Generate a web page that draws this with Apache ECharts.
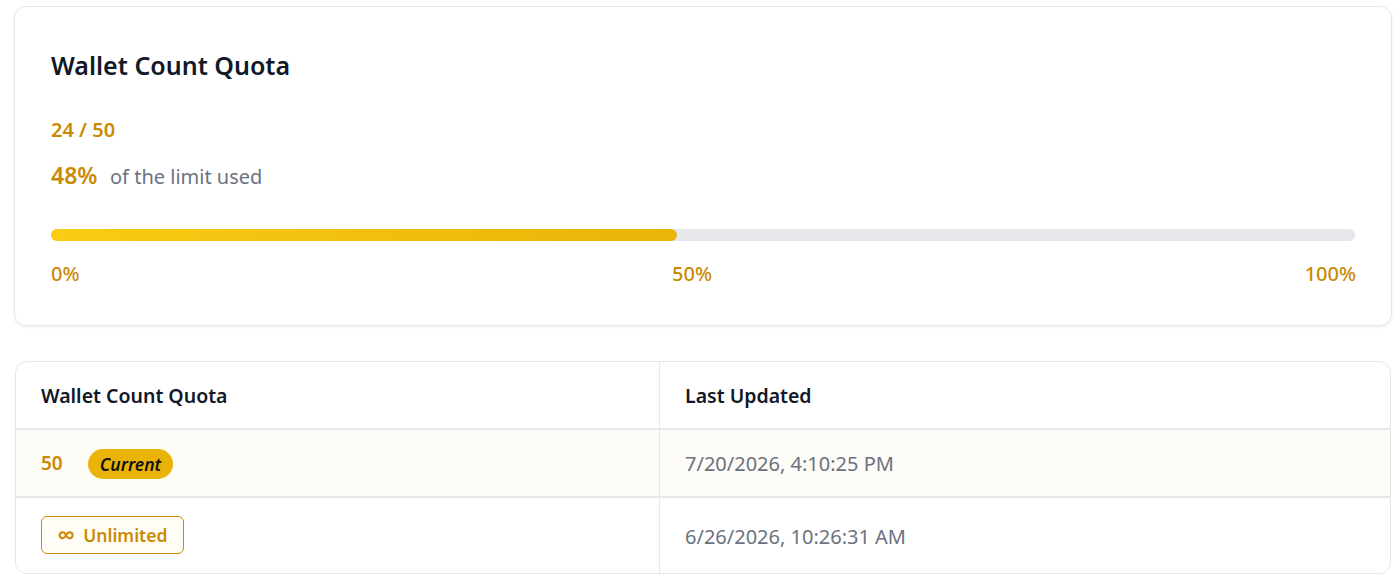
<!DOCTYPE html>
<html>
<head>
<meta charset="utf-8">
<script src="https://cdn.jsdelivr.net/npm/echarts@6/dist/echarts.min.js"></script>
<style>
  html, body { margin: 0; padding: 0; background: #ffffff; width: 1400px; height: 579px; overflow: hidden; }
  body { font-family: "Noto Sans", "Open Sans", sans-serif; position: relative; }
  .card { position: absolute; box-sizing: border-box; border: 1px solid #e5e7eb; border-radius: 12px; background: #fff; }
  #card1 { left: 14px; top: 6px; width: 1378px; height: 320px; box-shadow: 0 1px 3px rgba(0,0,0,0.08); }
  #card2 { left: 15px; top: 361px; width: 1376px; height: 213px; overflow: hidden; }
  .abs { position: absolute; white-space: nowrap; line-height: 1; }
  #title { left: 36px; top: 46px; font-size: 25px; font-weight: 600; color: #111827; }
  #count { left: 36px; top: 113px; font-size: 20px; font-weight: 600; color: #ca8a04; }
  #pct { left: 36px; top: 157px; font-size: 23px; font-weight: 600; color: #ca8a04; }
  #pctTxt { left: 95px; top: 160px; font-size: 20px; color: #6b7280; }
  #bar { position: absolute; left: 35px; top: 221px; width: 1306px; height: 14px; }
  #ticks { position: absolute; left: 36px; top: 257px; width: 1305px; display: flex; justify-content: space-between; font-size: 20px; font-weight: 500; color: #ca8a04; line-height: 1; }
  .row { position: absolute; left: 0; width: 100%; box-sizing: border-box; }
  .hdr { font-size: 19.5px; font-weight: 600; color: #111827; }
  .date { font-size: 20px; color: #6b7280; }
  .vline { position: absolute; left: 643px; top: 0; width: 1px; height: 100%; background: #e5e7eb; }
  .hline { position: absolute; left: 0; width: 100%; height: 2px; background: #e5e7eb; }
  .num { font-size: 19px; font-weight: 600; color: #ca8a04; }
  .badge { position: absolute; box-sizing: border-box; background: #eab308; border-radius: 15px; font-style: italic; font-weight: 600; font-size: 17.5px; color: #111; display: flex; align-items: center; justify-content: center; }
  .obadge { position: absolute; box-sizing: border-box; border: 1.5px solid #ca8a04; border-radius: 6px; background: #fffdf5; font-weight: 600; font-size: 17.5px; color: #ca8a04; display: flex; align-items: center; justify-content: center; }
  .inf { font-size: 25px; margin-right: 8px; line-height: 1; position: relative; top: -1px; }
</style>
</head>
<body>
<div class="card" id="card1">
  <div class="abs" id="title"></div>
  <div class="abs" id="count"></div>
  <div class="abs" id="pct"></div>
  <div class="abs" id="pctTxt">of the limit used</div>
  <div id="bar"></div>
  <div id="ticks"></div>
</div>
<div class="card" id="card2"></div>
<script>
// ---- data ----
const chartTitle = "Wallet Count Quota";
const usedCount = [24];
const limitCount = [50];
const tickLabels = ["0%", "50%", "100%"];
const tableHeaders = ["Wallet Count Quota", "Last Updated"];
const quotaValues = ["50", "Unlimited"];
const quotaCurrent = [true, false];
const updatedAt = ["7/20/2026, 4:10:25 PM", "6/26/2026, 10:26:31 AM"];

// ---- derived ----
const percent = Math.round(usedCount[0] / limitCount[0] * 100);

document.getElementById('title').textContent = chartTitle;
document.getElementById('count').textContent = usedCount[0] + " / " + limitCount[0];
document.getElementById('pct').textContent = percent + "%";
const ticks = document.getElementById('ticks');
tickLabels.forEach(t => { const s = document.createElement('span'); s.textContent = t; ticks.appendChild(s); });

// ---- progress bar via ECharts ----
const chart = echarts.init(document.getElementById('bar'), null, { renderer: 'canvas' });
chart.setOption({
  animation: false,
  grid: { left: 1, right: 1, top: 1, bottom: 1 },
  xAxis: { type: 'value', min: 0, max: 100, show: false },
  yAxis: { type: 'category', data: ['used'], show: false },
  series: [{
    type: 'bar',
    data: [percent],
    barWidth: 12,
    showBackground: true,
    backgroundStyle: { color: '#e5e7eb', borderRadius: 6 },
    itemStyle: {
      borderRadius: 6,
      color: new echarts.graphic.LinearGradient(0, 0, 1, 0, [
        { offset: 0, color: '#facc15' },
        { offset: 1, color: '#eab308' }
      ])
    }
  }]
});

// ---- table ----
const card2 = document.getElementById('card2');
const rowTops = [0, 67, 135];
const rowHeights = [67, 68, 78];
const hdr = document.createElement('div');
hdr.className = 'row'; hdr.style.top = '0px'; hdr.style.height = '67px';
tableHeaders.forEach((h, i) => {
  const d = document.createElement('div');
  d.className = 'abs hdr'; d.textContent = h;
  d.style.left = (i === 0 ? 25 : 669) + 'px'; d.style.top = '24px';
  hdr.appendChild(d);
});
card2.appendChild(hdr);
quotaValues.forEach((v, i) => {
  const r = document.createElement('div');
  r.className = 'row';
  r.style.top = rowTops[i + 1] + 'px';
  r.style.height = rowHeights[i + 1] + 'px';
  r.style.background = quotaCurrent[i] ? '#fdfcf6' : '#ffffff';
  const mid = rowHeights[i + 1] / 2;
  if (v === 'Unlimited') {
    const b = document.createElement('div');
    b.className = 'obadge';
    b.style.left = '25px'; b.style.top = (mid - 19 - 1) + 'px';
    b.style.width = '143px'; b.style.height = '38px';
    const inf = document.createElement('span'); inf.className = 'inf'; inf.textContent = '\u221E';
    const tx = document.createElement('span'); tx.textContent = v;
    b.appendChild(inf); b.appendChild(tx);
    r.appendChild(b);
  } else {
    const n = document.createElement('div');
    n.className = 'abs num'; n.textContent = v;
    n.style.left = '25px'; n.style.top = (mid - 9) + 'px';
    r.appendChild(n);
    if (quotaCurrent[i]) {
      const b = document.createElement('div');
      b.className = 'badge'; b.textContent = 'Current';
      b.style.left = '72px'; b.style.top = (mid - 14) + 'px';
      b.style.width = '85px'; b.style.height = '30px';
      r.appendChild(b);
    }
  }
  const d = document.createElement('div');
  d.className = 'abs date'; d.textContent = updatedAt[i];
  d.style.left = '669px'; d.style.top = (mid - 9) + 'px';
  r.appendChild(d);
  card2.appendChild(r);
});
[67, 135].forEach(t => {
  const l = document.createElement('div');
  l.className = 'hline'; l.style.top = (t - 1) + 'px';
  card2.appendChild(l);
});
const vl = document.createElement('div'); vl.className = 'vline'; card2.appendChild(vl);
</script>
</body>
</html>
